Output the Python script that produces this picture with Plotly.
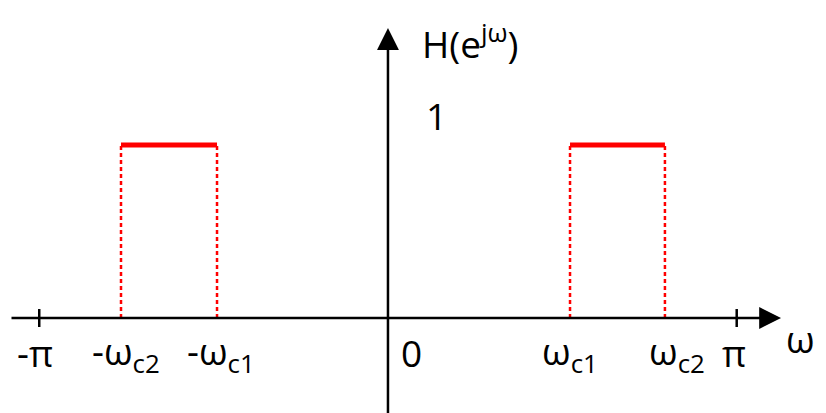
import math
import plotly.graph_objects as go

# frequency points (rad)
w_c1 = 1.54
w_c2 = 2.405
w_c1_pos = 1.64
w_c2_pos = 2.495
pi = math.pi
gain = 1.0

band_neg = [-w_c2, -w_c1]
band_pos = [w_c1_pos, w_c2_pos]

tick_vals = [-pi, pi]
label_x = [-3.18, -2.36, -1.5, 0.21, 1.64, 2.6, 3.12]
label_txt = ['-π', '-ω<sub>c2</sub>', '-ω<sub>c1</sub>', '0',
             'ω<sub>c1</sub>', 'ω<sub>c2</sub>', 'π']

# page body has an 8px margin, so the plot starts at (8, 8)
x_range = [-3.423, 3.946]
y_range = [-0.549, 1.792]

FONT = 'Open Sans'
RED = '#ff0000'
SIZE = 37

fig = go.Figure()

# dashed verticals
for x in band_neg + band_pos:
    fig.add_trace(go.Scatter(x=[x, x], y=[0, gain], mode='lines',
                             line=dict(color=RED, width=2.5, dash='4px,3px'),
                             hoverinfo='skip'))

# passbands
for b in (band_neg, band_pos):
    fig.add_trace(go.Scatter(x=b, y=[gain, gain], mode='lines',
                             line=dict(color=RED, width=5), hoverinfo='skip'))

# ticks at +-pi
for t in tick_vals:
    fig.add_trace(go.Scatter(x=[t, t], y=[-0.052, 0.052], mode='lines',
                             line=dict(color='black', width=2.5), hoverinfo='skip'))

# axes with arrows
fig.add_annotation(x=3.541, y=0, ax=-3.405, ay=0, xref='x', yref='y',
                   axref='x', ayref='y', showarrow=True, arrowhead=2,
                   arrowsize=1.75, arrowwidth=2.5, arrowcolor='black', text='')
fig.add_annotation(x=0, y=1.676, ax=0, ay=-0.6, xref='x', yref='y',
                   axref='x', ayref='y', showarrow=True, arrowhead=2,
                   arrowsize=1.75, arrowwidth=2.5, arrowcolor='black', text='')

for x, t in zip(label_x, label_txt):
    fig.add_annotation(x=x, y=-0.2, text=t, showarrow=False,
                       font=dict(family=FONT, size=SIZE, color='black'),
                       xanchor='center', yanchor='middle')

fig.add_annotation(x=3.86, y=-0.12, text='ω', showarrow=False, xanchor='right',
                   borderpad=0, font=dict(family=FONT, size=SIZE, color='black'))
fig.add_annotation(x=0.29, y=1.6, text='H(e<sup>jω</sup>)', showarrow=False,
                   xanchor='left', font=dict(family=FONT, size=SIZE, color='black'))
fig.add_annotation(x=0.44, y=1.17, text='1', showarrow=False,
                   xanchor='center', font=dict(family=FONT, size=SIZE, color='black'))

fig.update_layout(width=818, height=405, margin=dict(l=0, r=0, t=0, b=0),
                  plot_bgcolor='white', paper_bgcolor='white', showlegend=False)
fig.update_xaxes(range=x_range, visible=False)
fig.update_yaxes(range=y_range, visible=False)

fig.write_html("out.html")
